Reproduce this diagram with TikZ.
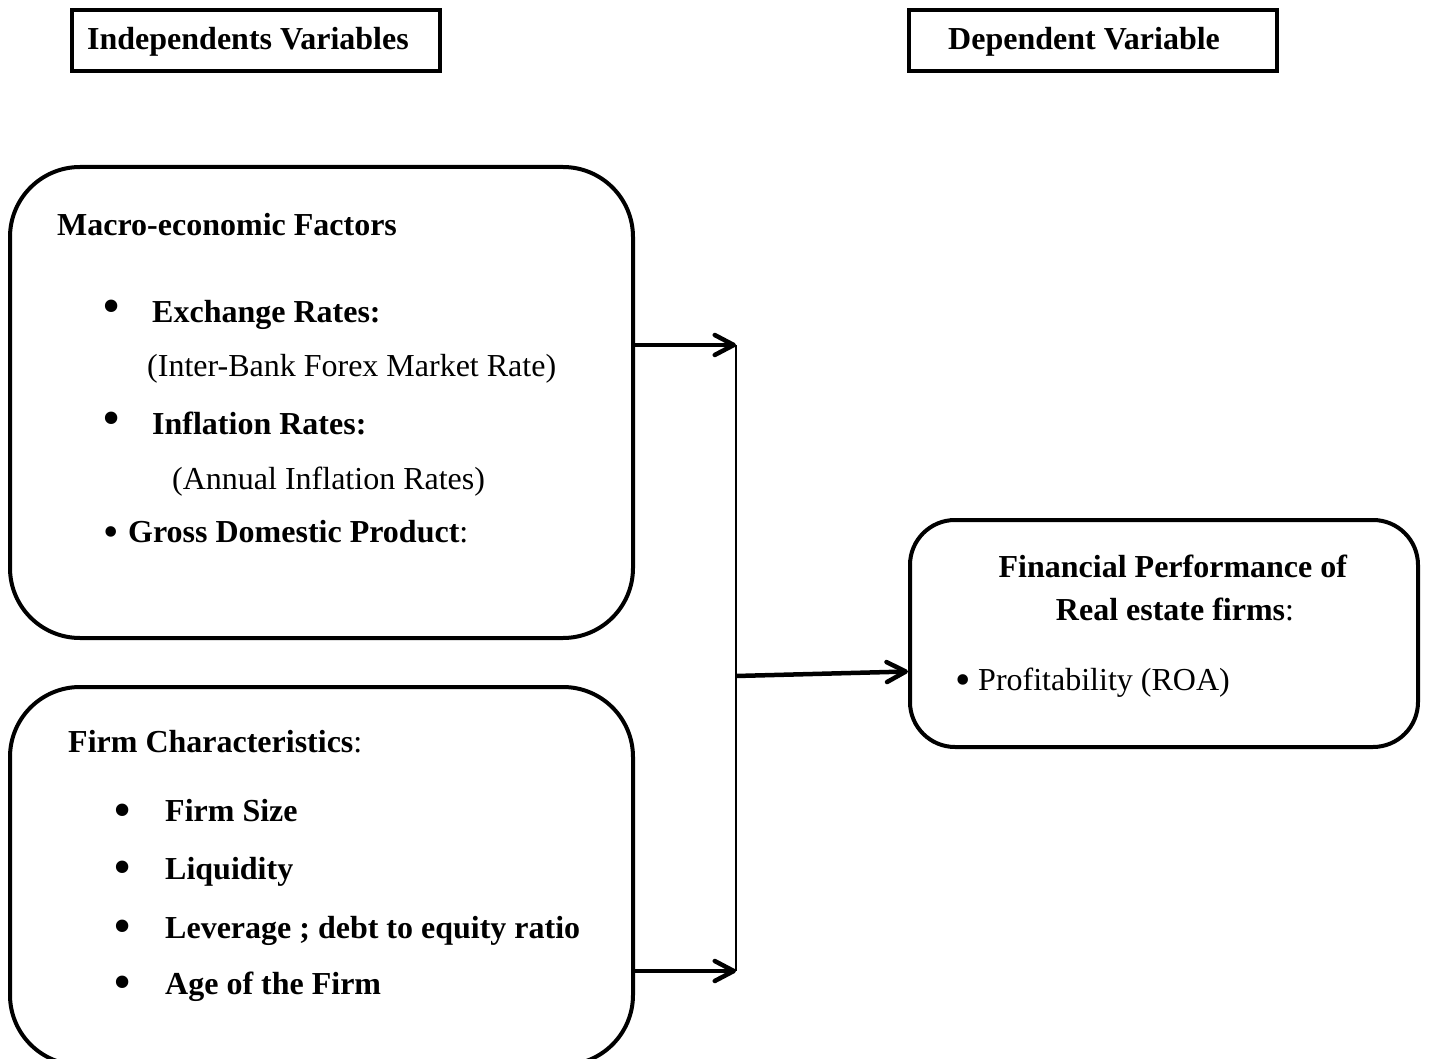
\documentclass[tikz,border=0pt]{standalone}
\usepackage{fontspec}
\setmainfont{Liberation Serif}
\usetikzlibrary{arrows.meta,positioning}

\begin{document}
\begin{tikzpicture}[
    x=1pt, y=-1pt,
    headbox/.style={draw, line width=4pt, minimum width=368pt, minimum height=61pt, inner sep=0pt},
    factorbox/.style={draw, line width=4pt, rounded corners=70pt, minimum width=623pt, inner sep=0pt},
    perfbox/.style={draw, line width=4pt, rounded corners=45pt, minimum width=508pt, minimum height=227pt, inner sep=0pt},
    txt/.style={anchor=base west, inner sep=0pt, font=\fontsize{32}{38}\selectfont},
    ctxt/.style={anchor=base, inner sep=0pt, font=\fontsize{32}{38}\selectfont},
    bigbul/.style={anchor=base, inner sep=0pt, font=\fontsize{52}{52}\selectfont},
    smallbul/.style={anchor=base, inner sep=0pt, font=\fontsize{44}{44}\selectfont},
    link/.style={line width=4.5pt, -{Straight Barb[length=19pt,width=20pt,round]}}
]
\clip (0,0) rectangle (1430,1059);

% Headings
\node[headbox] (indep) at (256,40.5) {};
\node[txt] (indeptxt) at (87,50) {\textbf{Independents Variables}};
\node[headbox] (dep) at (1092.5,40.5) {};
\node[txt] (deptxt) at (948,50) {\textbf{Dependent Variable}};

% Macro-economic factors
\node[factorbox, minimum height=471pt] (macro) at (321.5,402.5) {};
\node[txt] (macrotitle) at (57,236) {\textbf{Macro-economic Factors}};
\node[bigbul] (b1) at (112,324) {•};
\node[txt] (exch) at (152,323) {\textbf{Exchange Rates:}};
\node[txt] (exchsub) at (147,376) {(Inter-Bank Forex Market Rate)};
\node[bigbul] (b2) at (112,435) {•};
\node[txt] (infl) at (152,434) {\textbf{Inflation Rates:}};
\node[txt] (inflsub) at (172,489) {(Annual Inflation Rates)};
\node[smallbul] (b3) at (111,546) {•};
\node[txt] (gdp) at (128,542) {\textbf{Gross Domestic Product}:};

% Firm characteristics
\node[factorbox, minimum height=378pt] (firm) at (321.5,876) {};
\node[txt] (firmtitle) at (68,752) {\textbf{Firm Characteristics}:};
\node[bigbul] (b4) at (123,827) {•};
\node[txt] (size) at (165,821) {\textbf{Firm Size}};
\node[bigbul] (b5) at (123,884) {•};
\node[txt] (liq) at (165,879) {\textbf{Liquidity}};
\node[bigbul] (b6) at (123,943) {•};
\node[txt] (lev) at (165,938) {\textbf{Leverage ; debt to equity ratio}};
\node[bigbul] (b7) at (123,999) {•};
\node[txt] (age) at (165,994) {\textbf{Age of the Firm}};

% Financial performance
\node[perfbox] (perf) at (1164,633.5) {};
\node[ctxt] (perftitle) at (1173,577) {\textbf{Financial Performance of}};
\node[ctxt] (perfsub) at (1175,620) {\textbf{Real estate firms}:};
\node[smallbul] (b8) at (963,694) {•};
\node[txt] (roa) at (978,690) {Profitability (ROA)};

% Connectors
\coordinate (jtop) at (736,345);
\coordinate (jmid) at (736,676);
\coordinate (jbot) at (736,971);
\draw[line width=1.2pt] (jtop) -- (jbot);
\draw[link] (macro.east |- jtop) -- (jtop);
\draw[link] (firm.east |- jbot) -- (jbot);
\draw[link] (jmid) -- ([yshift=-38pt]perf.west);

\end{tikzpicture}
\end{document}
